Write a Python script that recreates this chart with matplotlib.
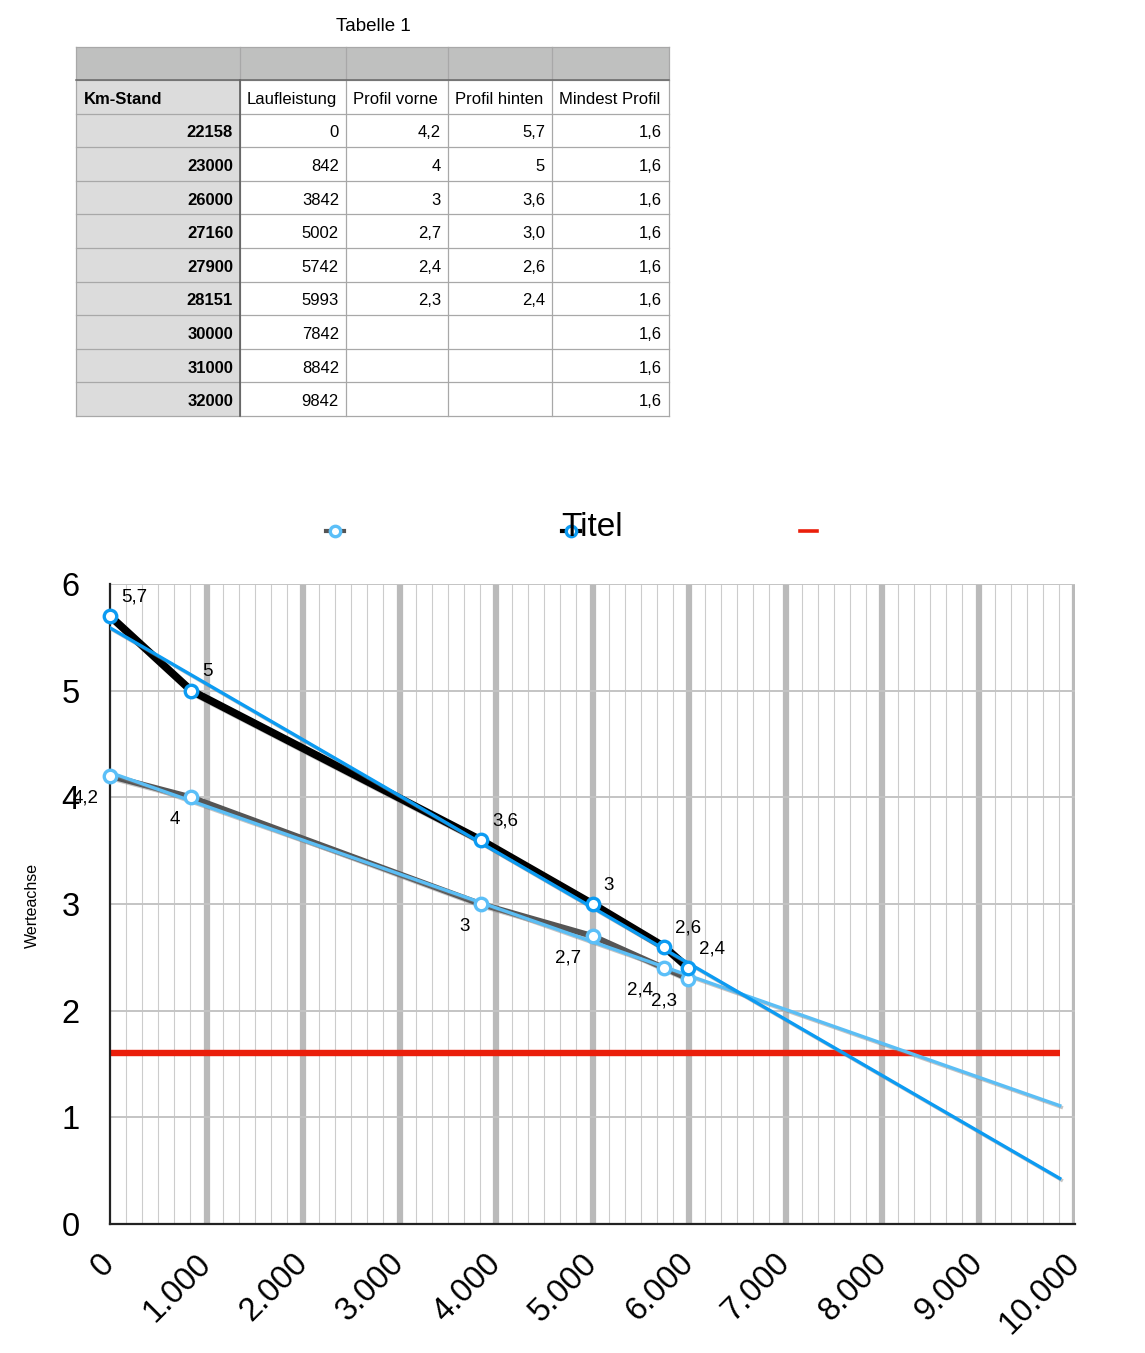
import numpy as np
import matplotlib
matplotlib.use('Agg')
import matplotlib.pyplot as plt
import matplotlib.patches as patches
import matplotlib.patheffects as pe
from matplotlib.lines import Line2D
from matplotlib.ticker import MultipleLocator, FuncFormatter

plt.rcParams['font.family'] = ['Liberation Sans', 'DejaVu Sans']

# Daten aus "Tabelle 1"
spalten = ['Km-Stand', 'Laufleistung', 'Profil vorne', 'Profil hinten', 'Mindest Profil']
km_stand = [22158, 23000, 26000, 27160, 27900, 28151, 30000, 31000, 32000]
laufleistung = [0, 842, 3842, 5002, 5742, 5993, 7842, 8842, 9842]
profil_vorne = [4.2, 4, 3, 2.7, 2.4, 2.3]
profil_hinten = [5.7, 5, 3.6, 3.0, 2.6, 2.4]
hinten_tabelle = ['5,7', '5', '3,6', '3,0', '2,6', '2,4']
mindest_profil = [1.6, 1.6, 1.6, 1.6, 1.6, 1.6, 1.6, 1.6, 1.6]

x_ticks = list(range(0, 10001, 1000))
y_ticks = [0, 1, 2, 3, 4, 5, 6]


def de(v):
    return f'{v:g}'.replace('.', ',')


W, H = 1145, 1353
fig = plt.figure(figsize=(W / 100, H / 100), dpi=100)

# ---------------- Tabelle ----------------
tab = fig.add_axes([0, 0, 1, 1])
tab.set_xlim(0, W)
tab.set_ylim(H, 0)
tab.axis('off')

col_x = [76, 240, 346, 448, 552, 669]
row_y = [47, 80] + [80 + 33.6 * i for i in range(1, 11)]
dy = 2.5  # Text etwas tiefer setzen

tab.text(373, 24 + dy, 'Tabelle 1', ha='center', va='center', fontsize=13.5)

# Hintergruende
tab.add_patch(patches.Rectangle((col_x[0], row_y[0]), col_x[-1] - col_x[0], row_y[1] - row_y[0],
                                facecolor='#bfc0bf', edgecolor='none'))
tab.add_patch(patches.Rectangle((col_x[0], row_y[1]), col_x[1] - col_x[0], row_y[-1] - row_y[1],
                                facecolor='#dcdcdc', edgecolor='none'))
# Gitterlinien
for yy in row_y:
    tab.plot([col_x[0], col_x[-1]], [yy, yy], color='#a8a8a8', lw=0.9)
for xx in col_x:
    tab.plot([xx, xx], [row_y[0], row_y[-1]], color='#a8a8a8', lw=0.9)
tab.plot([col_x[1], col_x[1]], [row_y[1], row_y[-1]], color='#555555', lw=1.1)
tab.plot([col_x[0], col_x[-1]], [row_y[1], row_y[1]], color='#666666', lw=1.1)

fs = 12
ty = (row_y[1] + row_y[2]) / 2 + dy
tab.text(col_x[0] + 8, ty, spalten[0], ha='left', va='center', fontsize=fs, weight='bold')
for j in range(1, 5):
    tab.text(col_x[j] + 7, ty, spalten[j], ha='left', va='center', fontsize=fs)

for i in range(len(km_stand)):
    yc = (row_y[i + 2] + row_y[i + 3]) / 2 + dy
    tab.text(col_x[1] - 7, yc, str(km_stand[i]), ha='right', va='center', fontsize=fs, weight='bold')
    tab.text(col_x[2] - 7, yc, str(laufleistung[i]), ha='right', va='center', fontsize=fs)
    if i < len(profil_vorne):
        tab.text(col_x[3] - 7, yc, de(profil_vorne[i]), ha='right', va='center', fontsize=fs)
        tab.text(col_x[4] - 7, yc, hinten_tabelle[i], ha='right', va='center', fontsize=fs)
    tab.text(col_x[5] - 7, yc, de(mindest_profil[i]), ha='right', va='center', fontsize=fs)

# ---------------- Diagramm ----------------
ax = fig.add_axes([110 / W, 129 / H, 965 / W, 640 / H])
ax.set_xlim(0, 10000)
ax.set_ylim(0, 6)
ax.set_xticks(x_ticks)
ax.set_yticks(y_ticks)
ax.xaxis.set_minor_locator(MultipleLocator(1000 / 6))
ax.xaxis.set_major_formatter(FuncFormatter(lambda v, p: f'{int(v):,}'.replace(',', '.')))

ax.set_axisbelow(True)
ax.grid(which='minor', axis='x', color='#cccccc', lw=0.8)
ax.grid(which='major', axis='x', color='#bababa', lw=4.5)
ax.grid(which='major', axis='y', color='#c4c4c4', lw=1.4)
ax.xaxis.get_gridlines()[0].set_visible(False)
ax.yaxis.get_gridlines()[0].set_visible(False)

for s in ['top', 'right']:
    ax.spines[s].set_visible(False)
for s in ['left', 'bottom']:
    ax.spines[s].set_color('#222222')
    ax.spines[s].set_linewidth(1.6)

ax.tick_params(which='both', length=0)
ax.tick_params(axis='y', labelsize=23.5, pad=22)
ax.tick_params(axis='x', labelsize=23.5, pad=25, labelrotation=45)
for lab in ax.get_xticklabels():
    lab.set_horizontalalignment('right')
    lab.set_verticalalignment('center')
    lab.set_rotation_mode('anchor')

x6 = laufleistung[:len(profil_vorne)]
schatten = [pe.SimpleLineShadow(offset=(1.2, -1.2), shadow_color='#808080', alpha=0.45), pe.Normal()]

# Mindest Profil
ax.plot(laufleistung, mindest_profil, color='#ea1f0b', lw=4.6, zorder=2, solid_capstyle='butt')

# Messwerte
ax.plot(x6, profil_vorne, color='#555555', lw=4.2, zorder=3, path_effects=schatten)
ax.plot(x6, profil_hinten, color='black', lw=5.5, zorder=3, path_effects=schatten)

# Trendlinien (linear)
xt = np.array([laufleistung[0], laufleistung[-1]])
tv = np.polyfit(x6, profil_vorne, 1)
th = np.polyfit(x6, profil_hinten, 1)
ax.plot(xt, np.polyval(tv, xt), color='#5bbef5', lw=2.4, zorder=4, path_effects=schatten)
ax.plot(xt, np.polyval(th, xt), color='#0c9bf2', lw=2.4, zorder=4, path_effects=schatten)

# Punkte
ax.plot(x6, profil_vorne, 'o', ms=9, mfc='white', mec='#5bbff8', mew=2.4, zorder=5, clip_on=False)
ax.plot(x6, profil_hinten, 'o', ms=9, mfc='white', mec='#0c9bf2', mew=2.4, zorder=5, clip_on=False)

# Datenbeschriftungen
for xv, yv in zip(x6, profil_hinten):
    ax.annotate(de(yv), (xv, yv), xytext=(8, 13.5), textcoords='offset points',
                ha='left', va='center', fontsize=13.5, zorder=6, annotation_clip=False)
for xv, yv in zip(x6, profil_vorne):
    ax.annotate(de(yv), (xv, yv), xytext=(-8, -16), textcoords='offset points',
                ha='right', va='center', fontsize=13.5, zorder=6, annotation_clip=False)

# Titel, Legende, Achsentitel
fig.text(592 / W, 1 - 528 / H, 'Titel', ha='center', va='center', fontsize=24)
ly = 1 - 531 / H
fig.add_artist(Line2D([326 / W, 344 / W], [ly, ly], color='#555555', lw=3, transform=fig.transFigure))
fig.add_artist(Line2D([335 / W], [ly], marker='o', ms=7.5, mfc='white', mec='#5bbff8', mew=2.4,
                      transform=fig.transFigure))
fig.add_artist(Line2D([562 / W, 580 / W], [ly, ly], color='black', lw=3, transform=fig.transFigure))
fig.add_artist(Line2D([571 / W], [ly], marker='o', ms=7.5, mfc='white', mec='#0c9bf2', mew=2.4,
                      transform=fig.transFigure))
fig.add_artist(Line2D([800 / W, 817 / W], [ly, ly], color='#ea1f0b', lw=2.6, transform=fig.transFigure))

fig.text(32 / W, 1 - 905 / H, 'Werteachse', rotation=90, ha='center', va='center', fontsize=11.5)

fig.savefig('out.png', dpi=100)
